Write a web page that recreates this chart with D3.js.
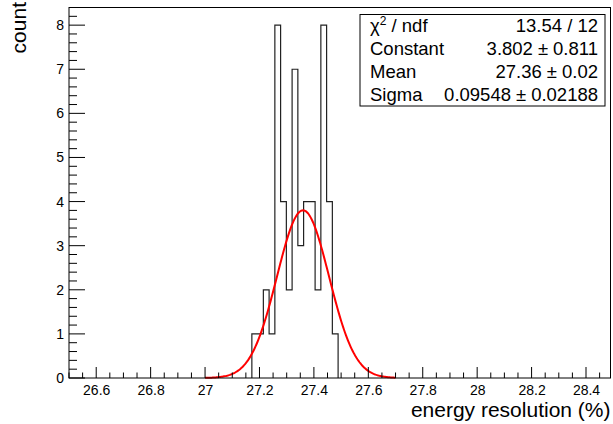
<!DOCTYPE html>
<html>
<head>
<meta charset="utf-8">
<script src="https://cdn.jsdelivr.net/npm/d3@7"></script>
<style>
  html, body { margin: 0; padding: 0; background: #fff; }
  svg { display: block; font-family: "Liberation Sans", Arial, Helvetica, sans-serif; }
</style>
</head>
<body>
<svg id="chart" width="613" height="424"></svg>
<script>
// ---- data ----
const binLow = 27.172;
const binWidth = 0.02113;
const binCounts = [1, 1, 2, 1, 8, 4, 2, 7, 3, 4, 4, 2, 8, 4, 1];
const xTickValues = [26.6, 26.8, 27, 27.2, 27.4, 27.6, 27.8, 28, 28.2, 28.4];
const yTickValues = [0, 1, 2, 3, 4, 5, 6, 7, 8];
const fitConstant = 3.802, fitMean = 27.36, fitSigma = 0.09548;
const fitRange = [27.0, 27.7];
const statLabels = ["χ2 / ndf", "Constant", "Mean", "Sigma"];
const statValues = [["13.54 / 12"], ["3.802", "0.811"], ["27.36", "0.02"], ["0.09548", "0.02188"]];
const xTitle = "energy resolution (%)";
const yTitle = "count";

// ---- layout ----
const L = 69, R = 610.5, T = 7.5, B = 378;
const svg = d3.select("#chart");
const x = d3.scaleLinear().domain([26.5, 28.49]).range([L, R]);
const y = d3.scaleLinear().domain([0, 8.4]).range([B, T]);

// histogram outline
const pts = [];
binCounts.forEach((c, i) => {
  const x0 = binLow + i * binWidth, x1 = x0 + binWidth;
  pts.push([x(x0), y(c)], [x(x1), y(c)]);
});
pts.unshift([x(binLow), y(0)]);
pts.push([x(binLow + binCounts.length * binWidth), y(0)]);
svg.append("path")
  .attr("d", d3.line()(pts))
  .attr("fill", "none").attr("stroke", "#222").attr("stroke-width", 1.2);

// gaussian fit
const fx = d3.range(0, 201).map(i => fitRange[0] + (fitRange[1] - fitRange[0]) * i / 200);
svg.append("path")
  .datum(fx)
  .attr("d", d3.line()
    .x(d => x(d))
    .y(d => y(fitConstant * Math.exp(-0.5 * Math.pow((d - fitMean) / fitSigma, 2)))))
  .attr("fill", "none").attr("stroke", "#ff0000").attr("stroke-width", 2);

// frame
svg.append("rect").attr("x", L).attr("y", T).attr("width", R - L).attr("height", B - T)
  .attr("fill", "none").attr("stroke", "#000").attr("stroke-width", 1);

// x axis ticks
const xMinor = d3.range(26.5, 28.49 + 1e-9, 0.05).map(v => +v.toFixed(2));
svg.append("g").selectAll("line").data(xMinor).join("line")
  .attr("x1", d => x(d)).attr("x2", d => x(d))
  .attr("y1", B).attr("y2", d => xTickValues.some(t => Math.abs(t - d) < 1e-6) ? B - 11 : B - 5.5)
  .attr("stroke", "#000").attr("stroke-width", 1);
const xAxis = d3.axisBottom(x).tickValues(xTickValues).tickSize(0).tickPadding(0)
  .tickFormat(d => d3.format("~g")(d));
const gx = svg.append("g").attr("transform", `translate(0,${B})`).call(xAxis);
gx.select(".domain").remove();
gx.selectAll("text").attr("font-size", 14).attr("fill", "#000")
  .attr("dy", null).attr("y", 17).attr("font-family", "Liberation Sans, Arial, sans-serif");

// y axis ticks
const yMinor = d3.range(0, 8.4 + 1e-9, 0.2).map(v => +v.toFixed(2));
svg.append("g").selectAll("line").data(yMinor).join("line")
  .attr("y1", d => y(d)).attr("y2", d => y(d))
  .attr("x1", L).attr("x2", d => yTickValues.includes(d) ? L + 16 : L + 8)
  .attr("stroke", "#000").attr("stroke-width", 1);
const yAxis = d3.axisLeft(y).tickValues(yTickValues).tickSize(0).tickPadding(5);
const gy = svg.append("g").attr("transform", `translate(${L},0)`).call(yAxis);
gy.select(".domain").remove();
gy.selectAll("text").attr("font-size", 14).attr("fill", "#000")
  .attr("font-family", "Liberation Sans, Arial, sans-serif");

// axis titles
svg.append("text").attr("x", R).attr("y", 417).attr("text-anchor", "end")
  .attr("font-size", 21).text(xTitle);
svg.append("text").attr("transform", "translate(26,2) rotate(-90)")
  .attr("text-anchor", "end").attr("font-size", 21).text(yTitle);

// stats box
const bx0 = 360, bx1 = 605, by0 = 14.5, by1 = 106;
svg.append("rect").attr("x", bx0).attr("y", by0).attr("width", bx1 - bx0).attr("height", by1 - by0)
  .attr("fill", "#fff").attr("stroke", "#000").attr("stroke-width", 1);
const rowH = (by1 - by0) / statLabels.length;
const fs = 18.5;
statLabels.forEach((lab, i) => {
  const yb = by0 + rowH * (i + 0.5) + 6.5;
  const t = svg.append("text").attr("x", bx0 + 10).attr("y", yb).attr("font-size", fs);
  if (lab.startsWith("χ2")) {
    t.append("tspan").text("χ");
    t.append("tspan").attr("font-size", 12).attr("dy", -7.5).text("2");
    t.append("tspan").attr("dy", 7.5).text(" / ndf");
  } else {
    t.text(lab);
  }
  const v = svg.append("text").attr("x", bx1 - 7).attr("y", yb).attr("text-anchor", "end")
    .attr("font-size", fs);
  const parts = statValues[i];
  if (parts.length === 1) {
    v.text(parts[0]);
  } else {
    v.append("tspan").text(parts[0]);
    v.append("tspan").attr("dx", 5).text("±");
    v.append("tspan").attr("dx", 5).text(parts[1]);
  }
});
</script>
</body>
</html>
